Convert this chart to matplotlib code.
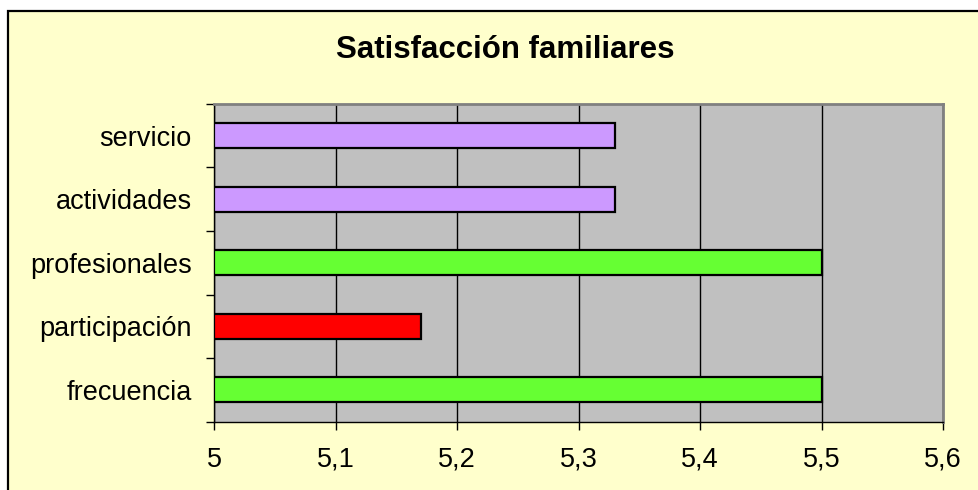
import matplotlib
matplotlib.use("Agg")
import matplotlib.pyplot as plt
from matplotlib.patches import Rectangle
from matplotlib.ticker import FixedLocator, FuncFormatter

categories = ["frecuencia", "participación", "profesionales", "actividades", "servicio"]
values = [5.5, 5.17, 5.5, 5.33, 5.33]
colors = ["#66FF33", "#FF0000", "#66FF33", "#CC99FF", "#CC99FF"]
xticks = [5.0, 5.1, 5.2, 5.3, 5.4, 5.5, 5.6]
title = "Satisfacción familiares"

plt.rcParams['font.family'] = ['Liberation Sans', 'DejaVu Sans']

W, H = 979, 490
fig = plt.figure(figsize=(W/100, H/100), dpi=100)
fig.patch.set_facecolor("white")
fig.patches.append(Rectangle((8/W, -0.1), 2, 479/H + 0.1, transform=fig.transFigure,
                             facecolor="#FFFFCC", edgecolor="black", linewidth=1.6, zorder=-10))

ax = fig.add_axes([214/W, (H-421.5)/H, 729/W, 317.5/H])
ax.set_zorder(5)
ax.set_facecolor("#C0C0C0")
ypos = list(range(len(categories)))
base = xticks[0]
ax.barh(ypos, [v - base for v in values], left=base, height=0.4, color=colors,
        edgecolor="black", linewidth=1.6, zorder=3)
ax.set_xlim(xticks[0], xticks[-1])
ax.set_ylim(-0.5, len(categories) - 0.5)
ax.set_xticks(xticks)
ax.xaxis.set_major_formatter(FuncFormatter(lambda v, p: ("%g" % round(v, 1)).replace(".", ",")))
ax.set_yticks(ypos)
ax.set_yticklabels(categories)
ax.yaxis.set_minor_locator(FixedLocator([i - 0.5 for i in range(len(categories) + 1)]))
ax.tick_params(axis="y", which="major", length=0, pad=16, labelsize=19.5)
ax.tick_params(axis="y", which="minor", length=6, width=1, color="black", direction="out")
ax.tick_params(axis="x", which="major", length=6, width=1, color="black", direction="out",
               pad=12, labelsize=19.5)
ax.grid(axis="x", color="black", linewidth=1, zorder=1)
for s in ["top", "right"]:
    ax.spines[s].set_color("#808080")
    ax.spines[s].set_linewidth(2)
for s in ["left", "bottom"]:
    ax.spines[s].set_color("black")
    ax.spines[s].set_linewidth(1)
ax.set_axisbelow(True)

fig.text(505/W, 1 - 50/H, title, ha="center", va="center", fontsize=22.5, fontweight="bold")

fig.savefig("out.png", dpi=100, facecolor=fig.get_facecolor())
